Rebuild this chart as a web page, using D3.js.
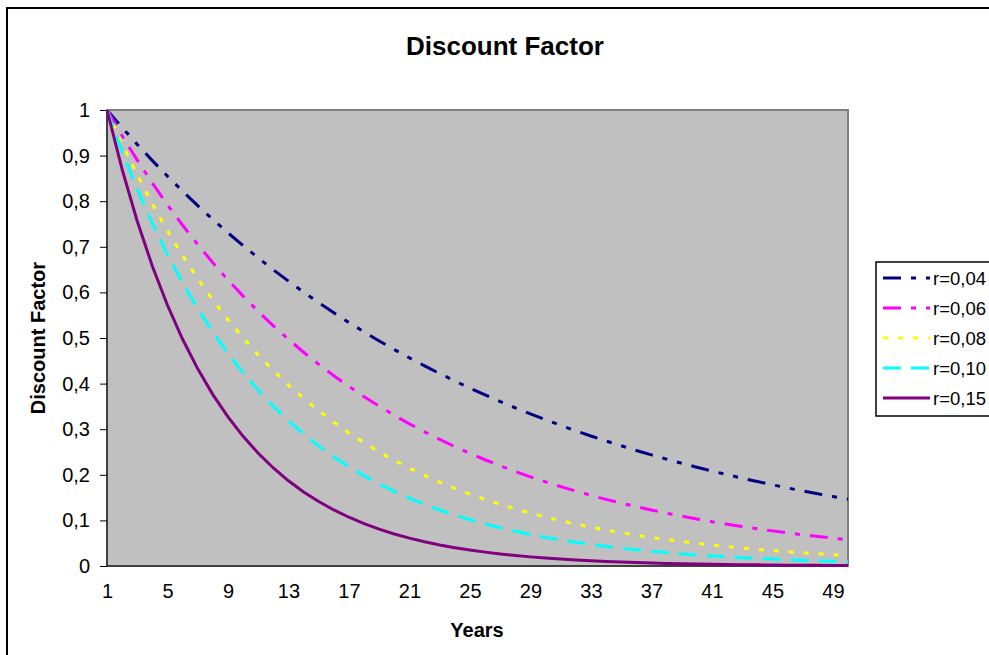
<!DOCTYPE html>
<html>
<head>
<meta charset="utf-8">
<script src="https://cdn.jsdelivr.net/npm/d3@7"></script>
<style>
  body { margin: 0; background: #fff; }
  text { font-family: "Liberation Sans", Arial, sans-serif; }
</style>
</head>
<body>
<div class="chart"></div>
<script>
// Data
var years = d3.range(1, 51);
var labels = ["r=0,04", "r=0,06", "r=0,08", "r=0,10", "r=0,15"];
var r04 = [1, .9615, .9246, .8890, .8548, .8219, .7903, .7599, .7307, .7026,
  .6756, .6496, .6246, .6006, .5775, .5553, .5339, .5134, .4936, .4746,
  .4564, .4388, .4220, .4057, .3901, .3751, .3607, .3468, .3335, .3207,
  .3083, .2965, .2851, .2741, .2636, .2534, .2437, .2343, .2253, .2166,
  .2083, .2003, .1926, .1852, .1780, .1712, .1646, .1583, .1522, .1463];
var r06 = [1, .9434, .8900, .8396, .7921, .7473, .7050, .6651, .6274, .5919,
  .5584, .5268, .4970, .4688, .4423, .4173, .3936, .3714, .3503, .3305,
  .3118, .2942, .2775, .2618, .2470, .2330, .2198, .2074, .1956, .1846,
  .1741, .1643, .1550, .1462, .1379, .1301, .1227, .1158, .1092, .1031,
  .0972, .0917, .0865, .0816, .0770, .0727, .0685, .0647, .0610, .0575];
var r08 = [1, .9259, .8573, .7938, .7350, .6806, .6302, .5835, .5403, .5002,
  .4632, .4289, .3971, .3677, .3405, .3152, .2919, .2703, .2502, .2317,
  .2145, .1987, .1839, .1703, .1577, .1460, .1352, .1252, .1159, .1073,
  .0994, .0920, .0852, .0789, .0730, .0676, .0626, .0580, .0537, .0497,
  .0460, .0426, .0395, .0365, .0338, .0313, .0290, .0269, .0249, .0230];
var r10 = [1, .9091, .8264, .7513, .6830, .6209, .5645, .5132, .4665, .4241,
  .3855, .3505, .3186, .2897, .2633, .2394, .2176, .1978, .1799, .1635,
  .1486, .1351, .1228, .1117, .1015, .0923, .0839, .0763, .0693, .0630,
  .0573, .0521, .0474, .0431, .0391, .0356, .0323, .0294, .0267, .0243,
  .0221, .0201, .0183, .0166, .0151, .0137, .0125, .0113, .0103, .0094];
var r15 = [1, .8696, .7561, .6575, .5718, .4972, .4323, .3759, .3269, .2843,
  .2472, .2149, .1869, .1625, .1413, .1229, .1069, .0929, .0808, .0703,
  .0611, .0531, .0462, .0402, .0349, .0304, .0264, .0230, .0200, .0174,
  .0151, .0131, .0114, .0099, .0086, .0075, .0065, .0057, .0049, .0043,
  .0037, .0032, .0028, .0025, .0021, .0019, .0016, .0014, .0012, .0011];
var xTicks = [1, 5, 9, 13, 17, 21, 25, 29, 33, 37, 41, 45, 49];
var yTicks = [0, 0.1, 0.2, 0.3, 0.4, 0.5, 0.6, 0.7, 0.8, 0.9, 1];

var series = [r04, r06, r08, r10, r15];
var colors = ["#000080", "#ff00ff", "#ffff00", "#00ffff", "#800080"];
var dashes = ["18,10,5,10,5,10", "18,10,5,10", "5,10", "18,10", null];

// Configuration
var width = 989;
var height = 655;
var plot = {left: 107, right: 848, top: 110, bottom: 566};
var fontSize = 20;

var svg = d3.select(".chart").append("svg")
    .attr("width", width)
    .attr("height", height);

// outer frame (cut off on the right and bottom)
svg.append("rect")
    .attr("x", 7).attr("y", 8)
    .attr("width", 1100).attr("height", 800)
    .attr("fill", "#fff")
    .attr("stroke", "#000")
    .attr("stroke-width", 2);

var x = d3.scaleLinear().domain([1, 50]).range([plot.left, plot.right]);
var y = d3.scaleLinear().domain([0, 1]).range([plot.bottom, plot.top]);

// plot area
svg.append("rect")
    .attr("x", plot.left).attr("y", plot.top)
    .attr("width", plot.right - plot.left)
    .attr("height", plot.bottom - plot.top)
    .attr("fill", "#c0c0c0")
    .attr("stroke", "#808080")
    .attr("stroke-width", 2);

// y axis
var yAxis = d3.axisLeft(y)
    .tickValues(yTicks)
    .tickSize(7)
    .tickPadding(10)
    .tickFormat(function(d) { return d3.format(".1~f")(d).replace(".", ","); });
var gy = svg.append("g")
    .attr("transform", "translate(" + plot.left + ",0)")
    .call(yAxis);
gy.selectAll("text").attr("font-size", fontSize).attr("fill", "#000")
    .style("font-family", "Liberation Sans, Arial, sans-serif");
gy.selectAll("line, path").attr("stroke", "#000");
gy.select(".domain").attr("d", "M0," + plot.top + "V" + plot.bottom);

// x axis
var xAxis = d3.axisBottom(x)
    .tickValues(xTicks)
    .tickSize(0)
    .tickPadding(18);
var gx = svg.append("g")
    .attr("transform", "translate(0," + plot.bottom + ")")
    .call(xAxis);
gx.selectAll("text").attr("font-size", fontSize).attr("fill", "#000")
    .style("font-family", "Liberation Sans, Arial, sans-serif");
gx.select(".domain").attr("stroke", "#000")
    .attr("d", "M" + plot.left + ",0H" + plot.right);

// lines
var line = d3.line()
    .x(function(d, i) { return x(years[i]); })
    .y(function(d) { return y(d); });

svg.selectAll("path.series")
    .data(series)
    .enter().append("path")
    .attr("class", "series")
    .attr("fill", "none")
    .attr("stroke", function(d, i) { return colors[i]; })
    .attr("stroke-width", 3)
    .attr("stroke-dasharray", function(d, i) { return dashes[i]; })
    .attr("d", line);

// titles
svg.append("text")
    .attr("x", 505).attr("y", 55)
    .attr("text-anchor", "middle")
    .attr("font-size", 26).attr("font-weight", "bold")
    .text("Discount Factor");

svg.append("text")
    .attr("transform", "translate(45," + (plot.top + plot.bottom) / 2 + ") rotate(-90)")
    .attr("text-anchor", "middle")
    .attr("font-size", fontSize).attr("font-weight", "bold")
    .text("Discount Factor");

svg.append("text")
    .attr("x", 477).attr("y", 637)
    .attr("text-anchor", "middle")
    .attr("font-size", fontSize).attr("font-weight", "bold")
    .text("Years");

// legend
var legend = svg.append("g").attr("transform", "translate(876,262)");
legend.append("rect")
    .attr("width", 200).attr("height", 154)
    .attr("fill", "#fff")
    .attr("stroke", "#000")
    .attr("stroke-width", 1.5);

var item = legend.selectAll("g.item")
    .data(labels)
    .enter().append("g")
    .attr("class", "item")
    .attr("transform", function(d, i) { return "translate(0," + (16 + i * 30) + ")"; });

item.append("line")
    .attr("x1", 7).attr("x2", 54)
    .attr("stroke", function(d, i) { return colors[i]; })
    .attr("stroke-width", 3)
    .attr("stroke-dasharray", function(d, i) { return dashes[i]; });

item.append("text")
    .attr("x", 57).attr("y", 7)
    .attr("font-size", 18.5)
    .text(function(d) { return d; });
</script>
</body>
</html>
